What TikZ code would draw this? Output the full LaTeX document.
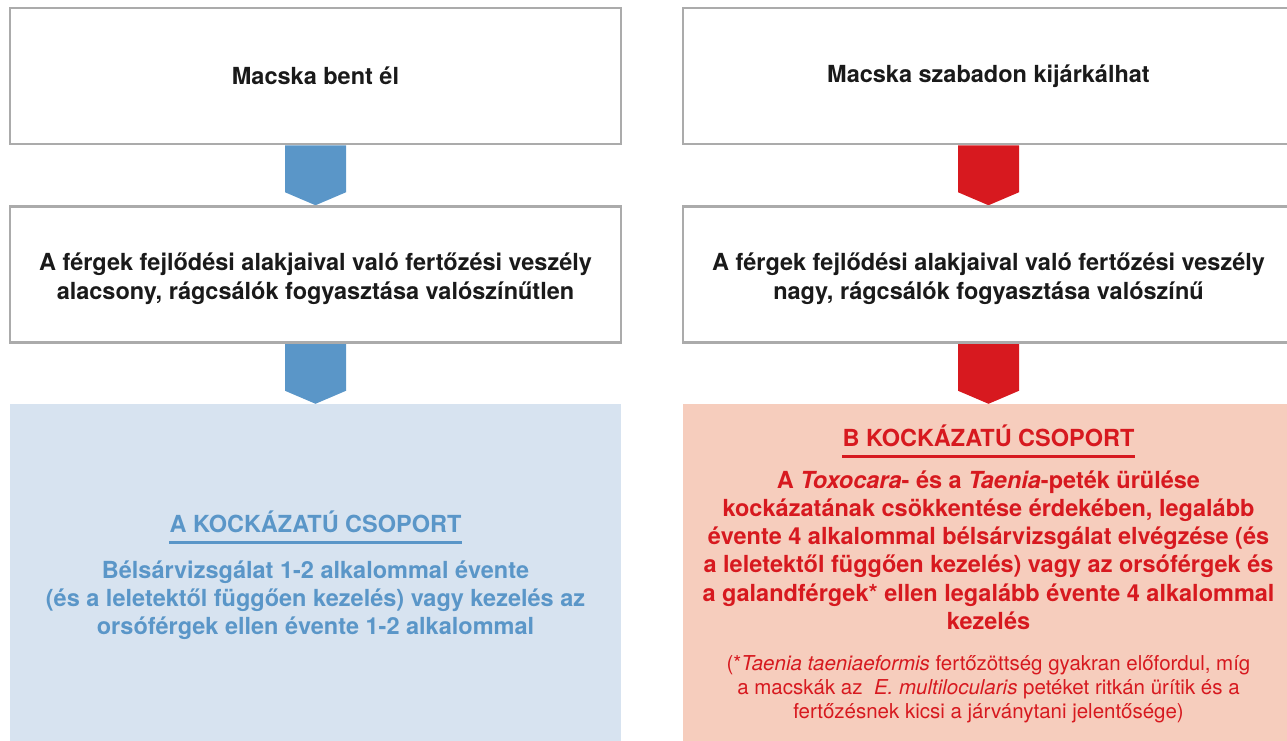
\documentclass[tikz,border=0pt]{standalone}
\usepackage{fontspec}
\setmainfont{TeX Gyre Heros}
\usetikzlibrary{calc,backgrounds}

\definecolor{keret}{HTML}{ABABAB}
\definecolor{kek}{HTML}{5A96C8}
\definecolor{halvanykek}{HTML}{D7E3F0}
\definecolor{piros}{HTML}{D7191F}
\definecolor{lazac}{HTML}{F6CDBD}
\definecolor{szoveg}{HTML}{1A1A1A}

\tikzset{
  doboz/.style={draw=keret, line width=2.5pt, fill=white, minimum width=611pt,
    minimum height=136pt, inner sep=0pt, text=szoveg, align=center,
    font=\fontsize{23.5}{29}\selectfont\bfseries},
  dobozszoveg/.style={inner sep=0pt, text=szoveg, align=center,
    font=\fontsize{23.5}{29}\selectfont\bfseries},
  csoport/.style={minimum width=611pt, minimum height=340pt, inner sep=0pt},
  fejlec/.style={inner sep=0pt, font=\fontsize{23.5}{28}\selectfont\bfseries},
  torzs/.style={inner sep=0pt, align=center, font=\fontsize{23.5}{28.2}\selectfont\bfseries},
  labjegyzet/.style={inner sep=0pt, align=center, font=\fontsize{20.5}{24}\selectfont}
}

\begin{document}
\begin{tikzpicture}[x=1pt, y=-1pt]
  \useasboundingbox (0,0) rectangle (1287,740);

  %bal oszlop
  \node[doboz] (bent) at (315.5,76) {Macska bent él};
  \node[doboz] (alacsony) at (315.5,274.5) {};
  \node[dobozszoveg] (alacsonyT) at ($(alacsony.center)+(0,4)$) {A férgek fejlődési alakjaival való fertőzési veszély\\alacsony, rágcsálók fogyasztása valószínűtlen};
  \node[csoport, fill=halvanykek] (csopA) at (315.5,574) {};

  %jobb oszlop
  \node[doboz] (kint) at (988.5,76) {Macska szabadon kijárkálhat};
  \node[doboz] (nagy) at (988.5,274.5) {};
  \node[dobozszoveg] (nagyT) at ($(nagy.center)+(0,4)$) {A férgek fejlődési alakjaival való fertőzési veszély\\nagy, rágcsálók fogyasztása valószínű};
  \node[csoport, fill=lazac] (csopB) at (988.5,574) {};

  %nyilak
  \begin{scope}[on background layer]
    \fill[kek] ($(bent.south)+(-30.5,0)$) -- ($(bent.south)+(30.5,0)$) -- ($(bent.south)+(30.5,47)$)
      -- (alacsony.north) -- ($(bent.south)+(-30.5,47)$) -- cycle;
    \fill[kek] ($(alacsony.south)+(-30.5,0)$) -- ($(alacsony.south)+(30.5,0)$) -- ($(alacsony.south)+(30.5,47)$)
      -- (csopA.north) -- ($(alacsony.south)+(-30.5,47)$) -- cycle;
    \fill[piros] ($(kint.south)+(-30.5,0)$) -- ($(kint.south)+(30.5,0)$) -- ($(kint.south)+(30.5,47)$)
      -- (nagy.north) -- ($(kint.south)+(-30.5,47)$) -- cycle;
    \fill[piros] ($(nagy.south)+(-30.5,0)$) -- ($(nagy.south)+(30.5,0)$) -- ($(nagy.south)+(30.5,47)$)
      -- (csopB.north) -- ($(nagy.south)+(-30.5,47)$) -- cycle;
  \end{scope}

  %A csoport szovege
  \node[fejlec, text=kek, anchor=base] (fejA) at (315.5,532) {A KOCKÁZATÚ CSOPORT};
  \draw[kek, line width=3pt] ($(fejA.base west)+(0,10)$) -- ($(fejA.base east)+(0,10)$);
  \node[torzs, text=kek] (kezA) at (315.5,600) {Bélsárvizsgálat 1-2 alkalommal évente\\(és a leletektől függően kezelés) vagy kezelés az\\orsóférgek ellen évente 1-2 alkalommal};

  %B csoport szovege
  \node[fejlec, text=piros, anchor=base] (fejB) at (988.5,446) {B KOCKÁZATÚ CSOPORT};
  \draw[piros, line width=3pt] ($(fejB.base west)+(0,10)$) -- ($(fejB.base east)+(0,10)$);
  \node[torzs, text=piros] (kezB) at (988.5,550) {A \textit{Toxocara}- és a \textit{Taenia}-peték ürülése\\kockázatának csökkentése érdekében, legalább\\évente 4 alkalommal bélsárvizsgálat elvégzése (és\\a leletektől függően kezelés) vagy az orsóférgek és\\a galandférgek* ellen legalább évente 4 alkalommal\\kezelés};
  \node[labjegyzet, text=piros] (jegyzet) at (988.5,689) {(*\textit{Taenia taeniaeformis} fertőzöttség gyakran előfordul, míg\\a macskák az\ \ \textit{E. multilocularis} petéket ritkán ürítik és a\\fertőzésnek kicsi a járványtani jelentősége)};
\end{tikzpicture}
\end{document}
